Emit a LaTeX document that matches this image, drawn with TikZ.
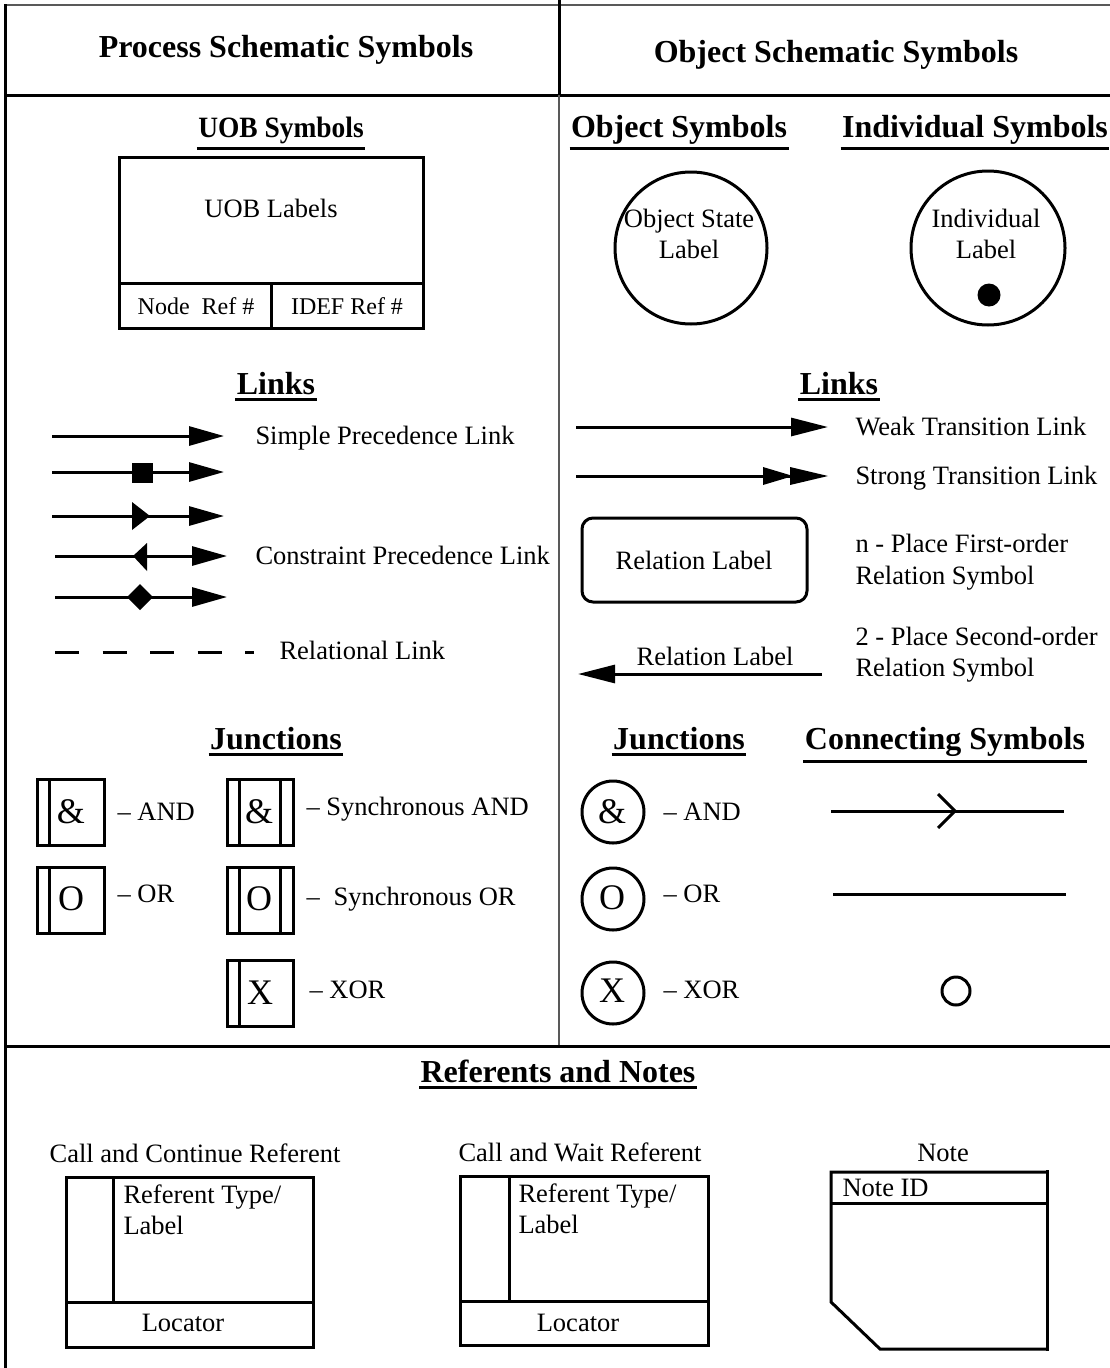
\documentclass[tikz,border=0pt]{standalone}
\usepackage{graphicx}
\usepackage{fontspec}
\setmainfont{Liberation Serif}
\usetikzlibrary{arrows.meta}
\newcommand\bodyfnt{\fontsize{26.5}{30}\selectfont}
\newcommand\headfnt{\fontsize{32}{36}\selectfont\bfseries}
\newcommand\uobfnt{\fontsize{29.5}{34}\selectfont\bfseries}
\newcommand\smallfnt{\fontsize{24}{28}\selectfont}
\newcommand\symfnt{\fontsize{36}{40}\selectfont}
\begin{document}
\begin{tikzpicture}[x=1pt,y=-1pt,line width=3pt,
  txt/.style={font=\bodyfnt,inner sep=0pt,text height=17.5pt,text depth=0pt},
  lft/.style={txt,anchor=west},
  smalltxt/.style={font=\smallfnt,inner sep=0pt,text height=15.8pt,text depth=0pt},
  tophead/.style={font=\headfnt,inner sep=0pt,text height=21.2pt,text depth=0pt},
  head/.style={font=\headfnt,inner sep=0pt,anchor=base},
  sym/.style={font=\symfnt,inner sep=0pt,text height=23.8pt,text depth=0pt},
  uline/.style={line width=3pt},
  frame/.style={line width=3pt},
  thinframe/.style={line width=1.8pt,black!65},
  lnk/.style={line width=3pt},
  tri/.style={-{Triangle[length=35pt,width=19pt]}},
  tribig/.style={-{Triangle[length=37pt,width=18pt]}},
  symbox/.style={line width=3pt},
]
\useasboundingbox (0,0) rectangle (1110,1368);

% ---------- frame ----------
\coordinate (tl) at (5,5);
\coordinate (tr) at (1110,5);
\coordinate (bl) at (5,1368);
\draw[thinframe] (tl) -- (tr);
\draw[frame] (5,4) -- (bl);
\draw[frame] (5,95) -- (1110,95);
\draw[frame] (559,0) -- (559,95);
\draw[thinframe] (559,95) -- (559,1046);
\draw[frame] (5,1046) -- (1110,1046);

% ---------- top headings ----------
\node[tophead] (hp) at (286,47) {Process Schematic Symbols};
\node[tophead] (ho) at (836,52) {Object Schematic Symbols};

% ---------- underlined sub headings (x, baseline) ----------
\node[head,font=\uobfnt] (huob) at (281,137) {\scalebox{0.93}[1]{UOB Symbols}};
\draw[uline] ([yshift=-3.5pt]huob.south west) -- ([yshift=-3.5pt]huob.south east);
\foreach \nm/\px/\py/\tx in {hobj/679/137/Object Symbols,
    hind/975/137/Individual Symbols, hlinkl/276/394/Links, hlinkr/839/394/Links,
    hjunl/276/749/Junctions, hjunr/679/749/Junctions, hcon/945/749/Connecting Symbols,
    href/558/1082/Referents and Notes}{
  \node[head] (\nm) at (\px,\py) {\tx};
  \draw[uline] ([yshift=-3.5pt]\nm.south west) -- ([yshift=-3.5pt]\nm.south east);
}

% ---------- UOB box ----------
\draw[symbox] (119,157) rectangle (423,328);
\draw[symbox] (119,283) -- (423,283);
\draw[symbox] (271,283) -- (271,328);
\node[txt] (uoblab) at (271,209) {UOB Labels};
\node[smalltxt] (noderef) at (196,307) {Node~ Ref \#};
\node[smalltxt] (idefref) at (347,307) {IDEF Ref \#};

% ---------- object / individual circles ----------
\draw[symbox] (691,248) circle (76);
\node[txt] (os1) at (689,219) {Object State};
\node[txt] (os2) at (689,250) {Label};
\draw[symbox] (988,248) circle (77);
\node[txt] (in1) at (986,219) {Individual};
\node[txt] (in2) at (986,250) {Label};
\fill (989,295) circle (11.5);

% ---------- process links ----------
\coordinate (a1) at (52,436);  \coordinate (b1) at (224,436);
\draw[lnk,tri] (a1) -- (b1);
\node[lft] (t1) at (254,436) {Simple Precedence Link};

\coordinate (a2) at (52,472);  \coordinate (b2) at (224,472);
\draw[lnk,tri] (a2) -- (b2);
\fill (131.5,462.5) rectangle (152.5,482.5);

\coordinate (a3) at (52,516);  \coordinate (b3) at (224,516);
\draw[lnk,tri] (a3) -- (b3);
\fill (132,502) -- (150,516) -- (132,530) -- cycle;

\coordinate (a4) at (55,556);  \coordinate (b4) at (227,556);
\draw[lnk,tri] (a4) -- (b4);
\fill (147,543) -- (133,556) -- (147,571) -- cycle;
\node[lft] (t4) at (254,556) {Constraint Precedence Link};

\coordinate (a5) at (55,597);  \coordinate (b5) at (227,597);
\draw[lnk,tri] (a5) -- (b5);
\fill (127,597) -- (140,584) -- (153,597) -- (140,610) -- cycle;

\coordinate (a6) at (55,652);  \coordinate (b6) at (254,652);
\draw[lnk,dash pattern=on 24pt off 23.5pt] (a6) -- (b6);
\node[lft] (t6) at (278,651) {Relational Link};

% ---------- object links ----------
\coordinate (c1) at (576,427); \coordinate (d1) at (828,427);
\draw[lnk,tribig] (c1) -- (d1);
\node[lft] (u1) at (854,427) {Weak Transition Link};

\coordinate (c2) at (576,476); \coordinate (d2) at (790,476);
\draw[lnk] (c2) -- (d2);
\fill (763,467) -- (793,476) -- (763,485) -- cycle;
\fill (790,467) -- (828,476) -- (790,485) -- cycle;
\node[lft] (u2) at (854,476) {Strong Transition Link};

\draw[symbox,rounded corners=11pt] (582,518) rectangle (807,602);
\node[txt] (rl1) at (694,561) {Relation Label};
\node[lft] (u3a) at (854,544) {n - Place First-order};
\node[lft] (u3b) at (854,576) {Relation Symbol};

\coordinate (c4) at (822,674); \coordinate (d4) at (578,674);
\draw[lnk,tribig] (c4) -- (d4);
\node[txt] (rl2) at (715,657) {Relation Label};
\node[lft] (u4a) at (854,637) {2 - Place Second-order};
\node[lft] (u4b) at (854,668) {Relation Symbol};

% ---------- process junctions ----------
\draw[symbox] (37,779) rectangle (104,845);  \draw[symbox] (49,779) -- (49,845);
\node[sym] (j1) at (71,812) {\&};
\node[lft] (j1t) at (116,812) {– AND};

\draw[symbox] (37,867) rectangle (104,933);  \draw[symbox] (49,867) -- (49,933);
\node[sym] (j2) at (71,899) {O};
\node[lft] (j2t) at (116,894) {– OR};

\draw[symbox] (227,779) rectangle (293,845);
\draw[symbox] (239,779) -- (239,845); \draw[symbox] (280,779) -- (280,845);
\node[sym] (j3) at (259,812) {\&};
\node[lft] (j3t) at (305,807) {– Synchronous AND};

\draw[symbox] (227,867) rectangle (293,933);
\draw[symbox] (239,867) -- (239,933); \draw[symbox] (280,867) -- (280,933);
\node[sym] (j4) at (259,899) {O};
\node[lft] (j4t) at (305,897) {–\hspace{14pt}Synchronous OR};

\draw[symbox] (227,960) rectangle (293,1026); \draw[symbox] (239,960) -- (239,1026);
\node[sym] (j5) at (260,993) {X};
\node[lft] (j5t) at (308,990) {– XOR};

% ---------- object junctions ----------
\draw[symbox] (613,812) circle (31);
\node[sym] (k1) at (612,812) {\&};
\node[lft] (k1t) at (662,812) {– AND};
\draw[symbox] (613,899) circle (31);
\node[sym] (k2) at (612,898) {O};
\node[lft] (k2t) at (662,894) {– OR};
\draw[symbox] (613,993) circle (31);
\node[sym] (k3) at (612,991) {X};
\node[lft] (k3t) at (662,990) {– XOR};

% ---------- connecting symbols ----------
\coordinate (e1) at (831,811); \coordinate (f1) at (1064,811);
\draw[lnk] (e1) -- (f1);
\draw[lnk] (938,794) -- (955,811) -- (938,828);
\coordinate (e2) at (833,894); \coordinate (f2) at (1066,894);
\draw[lnk] (e2) -- (f2);
\draw[symbox] (956,991) circle (14);

% ---------- referents ----------
\node[txt] (cc) at (195,1154) {Call and Continue Referent};
\draw[symbox] (66,1177) rectangle (313,1347);
\draw[symbox] (113,1177) -- (113,1302);
\draw[symbox] (66,1302) -- (313,1302);
\node[lft] (cc1) at (122,1195) {Referent Type/};
\node[lft] (cc2) at (122,1226) {Label};
\node[txt] (cc3) at (183,1323) {Locator};

\node[txt] (cw) at (580,1153) {Call and Wait Referent};
\draw[symbox] (460,1176) rectangle (708,1345);
\draw[symbox] (509,1176) -- (509,1301);
\draw[symbox] (460,1301) -- (708,1301);
\node[lft] (cw1) at (517,1194) {Referent Type/};
\node[lft] (cw2) at (517,1225) {Label};
\node[txt] (cw3) at (578,1323) {Locator};

% ---------- note ----------
\node[txt] (nt) at (943,1153) {Note};
\draw[symbox] (1048,1172) -- (831,1172) -- (831,1302) -- (880,1349) -- (1048,1349);
\draw[symbox] (831,1203) -- (1048,1203);
\draw[symbox] (1047,1170) -- (1047,1351);
\node[lft] (nid) at (841,1188) {Note ID};
\end{tikzpicture}
\end{document}
